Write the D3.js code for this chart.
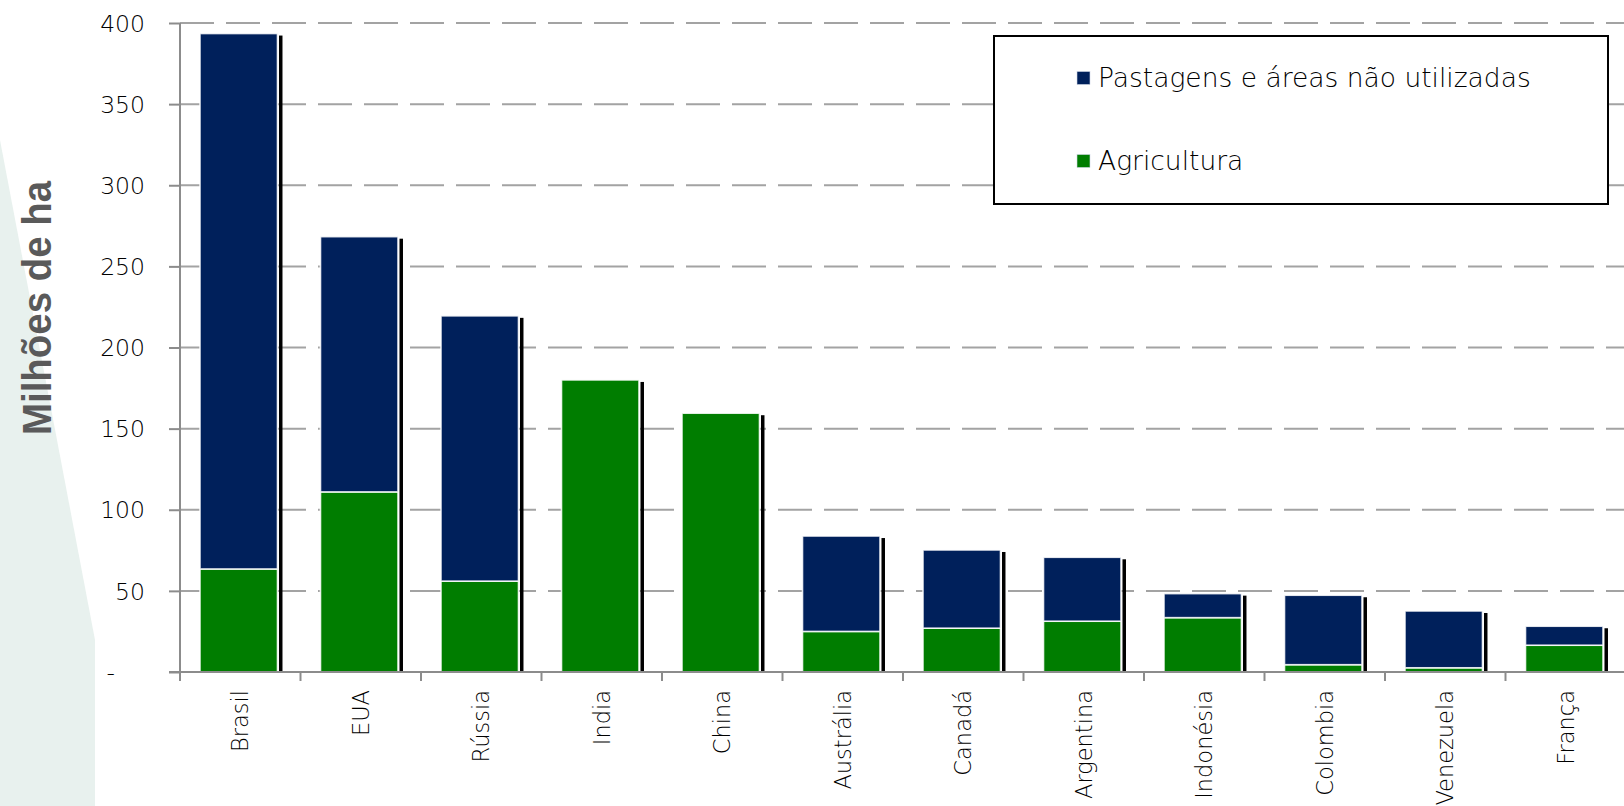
<!DOCTYPE html>
<html>
<head>
<meta charset="utf-8">
<script src="https://cdn.jsdelivr.net/npm/d3@7"></script>
<style>
  html, body { margin: 0; padding: 0; background: #ffffff; }
  svg { display: block; }
  .tick-label { font-family: "DejaVu Sans", Verdana, sans-serif; font-weight: 300; fill: #000; }
</style>
</head>
<body>
<svg id="chart" width="1624" height="806"></svg>
<script>
// Área por país (milhões de hectares)
const categories = ["Brasil", "EUA", "Rússia", "India", "China", "Austrália", "Canadá",
                    "Argentina", "Indonésia", "Colombia", "Venezuela", "França"];
const agricultura = [63.5, 111, 56, 180, 159.5, 25, 27, 31.3, 33.5, 4.5, 2.6, 16.5];
const pastagens   = [330, 157.3, 163.5, 0, 0, 58.8, 48.2, 39.4, 14.8, 42.8, 35, 11.7];
const yTicks = [0, 50, 100, 150, 200, 250, 300, 350, 400];
const seriesNames = ["Pastagens e áreas não utilizadas", "Agricultura"];
const seriesColors = ["#00205b", "#007d00"];

const svg = d3.select("#chart");
const W = 1624, H = 806;

// pale decorative band on the left edge
svg.append("polygon")
  .attr("points", [[0, 140], [95, 640], [95, H], [0, H]].map(p => p.join(",")).join(" "))
  .attr("fill", "#e8f1ee");

const y = d3.scaleLinear().domain([0, 400]).range([672, 23]);
const x = d3.scaleBand().domain(categories).range([180, 1626]).padding(0);
const step = x.step();
const barOff = step * 0.166, barW = step * 0.643;

// dashed gridlines
svg.append("g").selectAll("line")
  .data(yTicks.filter(d => d > 0))
  .join("line")
  .attr("x1", 180).attr("x2", W)
  .attr("y1", d => y(d)).attr("y2", d => y(d))
  .attr("stroke", "#a3a3a3").attr("stroke-width", 2)
  .attr("stroke-dasharray", "34,12");

// stacked bars
const rows = categories.map((c, i) => ({ c, agri: agricultura[i], past: pastagens[i] }));
const stack = d3.stack().keys(["agri", "past"])(rows);
const total = rows.map(r => r.agri + r.past);

// right-hand dark shadow strip
svg.append("g").selectAll("rect")
  .data(rows)
  .join("rect")
  .attr("x", d => x(d.c) + barOff + barW + 1.5)
  .attr("width", 3.5)
  .attr("y", (d, i) => y(total[i]) + 2)
  .attr("height", (d, i) => y(0) - y(total[i]) - 2)
  .attr("fill", "#000");

const colorByKey = { agri: seriesColors[1], past: seriesColors[0] };
svg.append("g").selectAll("g")
  .data(stack)
  .join("g")
  .attr("fill", s => colorByKey[s.key])
  .selectAll("rect")
  .data(s => s.filter(seg => seg[1] - seg[0] > 0))
  .join("rect")
  .attr("x", seg => x(seg.data.c) + barOff)
  .attr("width", barW)
  .attr("y", seg => y(seg[1]))
  .attr("height", seg => y(seg[0]) - y(seg[1]))
  .attr("stroke", "#ffffff").attr("stroke-width", 1.6).attr("stroke-opacity", 0.85);

// axes
const axisColor = "#8c8c8c";
svg.append("line").attr("x1", 180).attr("x2", 180).attr("y1", y(400)).attr("y2", 681)
  .attr("stroke", axisColor).attr("stroke-width", 2);
svg.append("line").attr("x1", 169).attr("x2", W).attr("y1", y(0)).attr("y2", y(0))
  .attr("stroke", axisColor).attr("stroke-width", 2);

const yAxis = d3.axisLeft(y).tickValues(yTicks).tickSize(11).tickPadding(0)
  .tickFormat(d => d === 0 ? "-" : d3.format("d")(d));
const gy = svg.append("g").attr("transform", "translate(180,0)").call(yAxis);
gy.select(".domain").remove();
gy.selectAll(".tick line").attr("stroke", axisColor).attr("stroke-width", 2);
gy.selectAll(".tick text")
  .attr("class", "tick-label")
  .attr("font-size", 23.5)
  .attr("x", d => d === 0 ? -65 : -35)
  .attr("dy", "0.35em");

// category tick marks at slot boundaries
svg.append("g").selectAll("line")
  .data(d3.range(categories.length + 1))
  .join("line")
  .attr("x1", i => x.range()[0] + i * step).attr("x2", i => x.range()[0] + i * step)
  .attr("y1", y(0)).attr("y2", 681)
  .attr("stroke", axisColor).attr("stroke-width", 2);

// category labels
svg.append("g").selectAll("text")
  .data(categories)
  .join("text")
  .attr("class", "tick-label")
  .attr("font-size", 22.5)
  .attr("text-anchor", "end")
  .attr("dy", "0.35em")
  .attr("transform", c => `translate(${x(c) + x.bandwidth() / 2},690) rotate(-90)`)
  .text(c => c);

// vertical axis title
svg.append("text")
  .attr("transform", "translate(51,308) rotate(-90)")
  .attr("text-anchor", "middle")
  .attr("font-family", "'Liberation Sans', Arial, sans-serif")
  .attr("font-weight", "bold")
  .attr("font-size", 40)
  .attr("textLength", 254)
  .attr("lengthAdjust", "spacingAndGlyphs")
  .attr("fill", "#5a5a5a")
  .text("Milhões de ha");

// legend
const lg = svg.append("g");
lg.append("rect").attr("x", 994).attr("y", 36).attr("width", 614).attr("height", 168)
  .attr("fill", "#fff").attr("stroke", "#000").attr("stroke-width", 2);
const legendRows = [78, 161];
seriesNames.forEach((name, i) => {
  lg.append("rect").attr("x", 1077).attr("y", legendRows[i] - 6.5)
    .attr("width", 13).attr("height", 13)
    .attr("fill", seriesColors[i]).attr("stroke", "#cfd8e6").attr("stroke-width", 0.6);
  lg.append("text").attr("class", "tick-label")
    .attr("x", 1098).attr("y", legendRows[i]).attr("dy", "0.35em")
    .attr("font-size", 26.5)
    .text(name);
});
</script>
</body>
</html>
